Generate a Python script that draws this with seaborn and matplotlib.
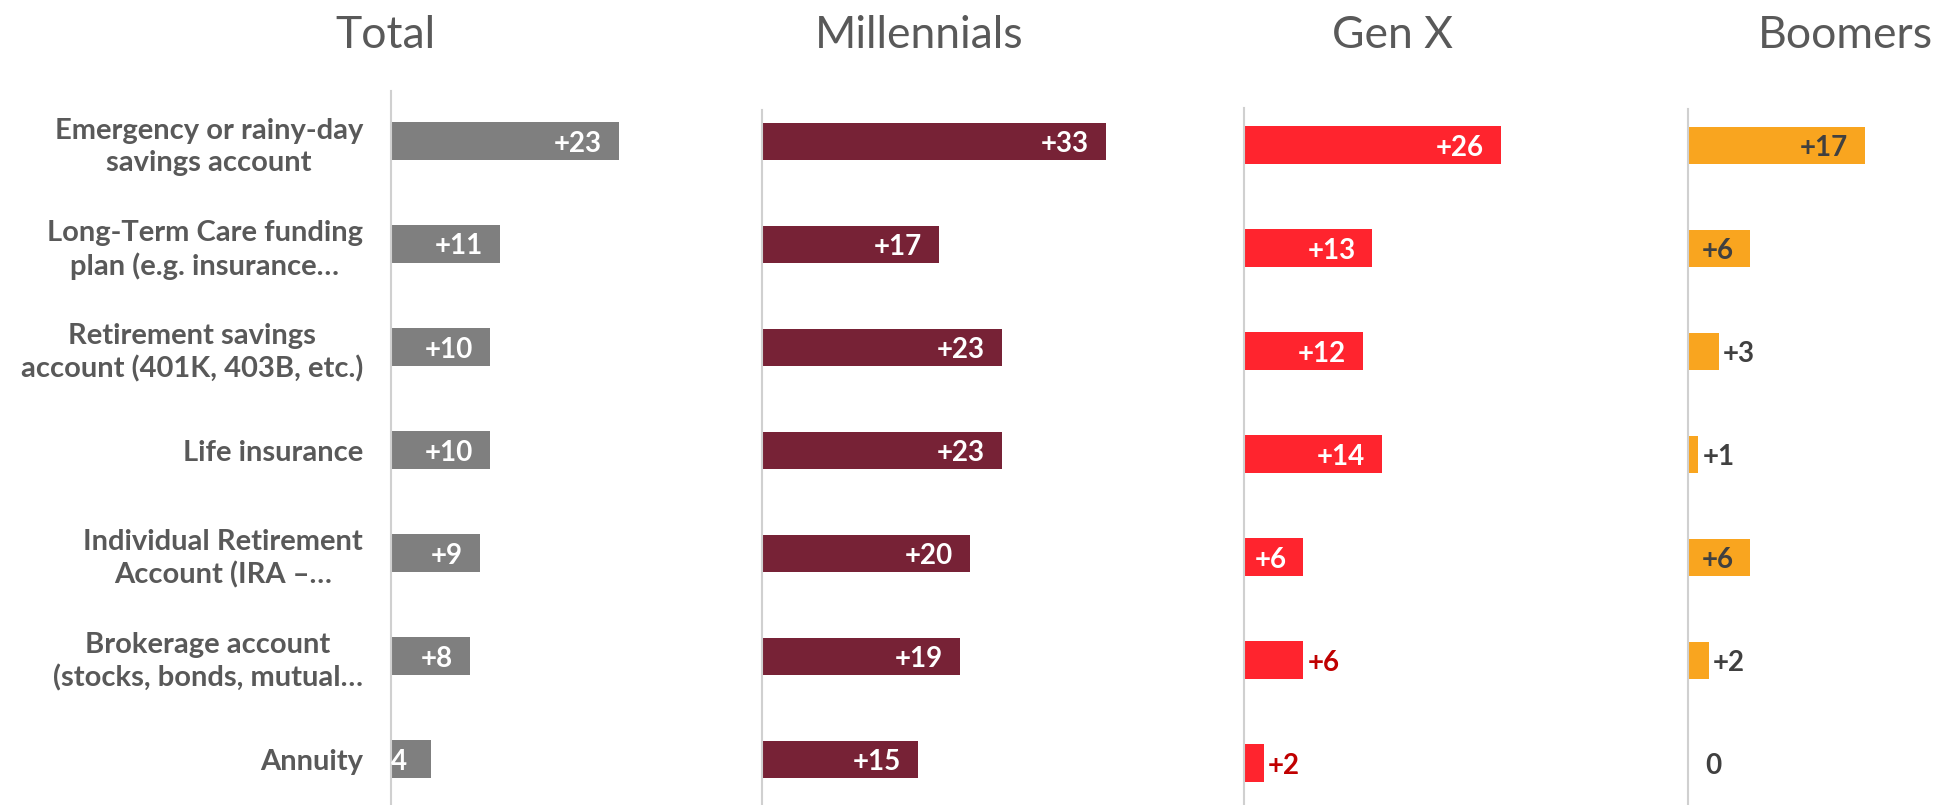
import matplotlib
matplotlib.use("Agg")
import matplotlib.pyplot as plt
import pandas as pd
import seaborn as sns

# ---- data -------------------------------------------------------------
categories = [
    "Emergency or rainy-day\nsavings account",
    "Long-Term Care funding\nplan (e.g. insurance…",
    "Retirement savings\naccount (401K, 403B, etc.)",
    "Life insurance",
    "Individual Retirement\nAccount (IRA –…",
    "Brokerage account\n(stocks, bonds, mutual…",
    "Annuity",
]
groups = ["Total", "Millennials", "Gen X", "Boomers"]
total = [23, 11, 10, 10, 9, 8, 4]
millennials = [33, 17, 23, 23, 20, 19, 15]
gen_x = [26, 13, 12, 14, 6, 6, 2]
boomers = [17, 6, 3, 1, 6, 2, 0]

# ---- styling ----------------------------------------------------------
sns.set_style("white")
plt.rcParams["font.family"] = ["Lato", "DejaVu Sans"]

W, H = 1943, 805
PX = 0.72          # points per pixel at 100 dpi
ROW = 103          # pixels per category slot
N = len(categories)
TEXT_GREY = "#595959"

fig = plt.figure(figsize=(W / 100, H / 100), dpi=100)

# per panel: values, bar colour, left edge (px), first row centre (px),
# x-range, pixels per unit, axis-line top (px), label colours, label placement
panels = [
    dict(name=groups[0], vals=total, color="#7F7F7F", left=391, row0=141,
         xmax=35, scale=9.9, line_top=91, title_x=385,
         c_in="white", c_out="white",
         place=["in", "in", "in", "in", "in", "in", "base"]),
    dict(name=groups[1], vals=millennials, color="#772236", left=762,
         row0=141.5, xmax=44, scale=10.42, line_top=110, title_x=919,
         c_in="white", c_out="white",
         place=["in"] * 7),
    dict(name=groups[2], vals=gen_x, color="#FF242E", left=1244, row0=145,
         xmax=40, scale=9.88, line_top=108, title_x=1392,
         c_in="white", c_out="#C00000",
         place=["in", "in", "in", "in", "in", "out", "out"]),
    dict(name=groups[3], vals=boomers, color="#F9A51F", left=1688,
         row0=145.5, xmax=24, scale=10.41, line_top=109, title_x=1845,
         c_in="#404040", c_out="#404040",
         place=["in", "in", "out", "out", "in", "out", "out"]),
]

y_top, y_bot = -0.5, N - 0.55

for k, p in enumerate(panels):
    width_px = p["xmax"] * p["scale"]
    top_px = p["row0"] + y_top * ROW
    height_px = (y_bot - y_top) * ROW
    ax = fig.add_axes([p["left"] / W, 1 - (top_px + height_px) / H,
                       width_px / W, height_px / H])

    df = pd.DataFrame({"category": categories, "value": p["vals"]})
    sns.barplot(data=df, x="value", y="category", orient="h",
                color=p["color"], saturation=1, width=0.36,
                linewidth=0, ax=ax)

    ax.set_xlim(0, p["xmax"])
    ax.set_ylim(y_bot, y_top)
    ax.set_xlabel("")
    ax.set_ylabel("")
    ax.set_xticks([])
    for s in ("top", "right", "bottom"):
        ax.spines[s].set_visible(False)
    ax.spines["left"].set_color("#D0D0D0")
    ax.spines["left"].set_linewidth(1.5)
    ax.spines["left"].set_bounds(y_bot, y_top + (p["line_top"] - top_px) / ROW)

    if k == 0:
        ax.tick_params(axis="y", length=0, pad=28 * PX)
        for lab in ax.get_yticklabels():
            lab.set_fontsize(21)
            lab.set_fontweight("bold")
            lab.set_color(TEXT_GREY)
            lab.set_multialignment("center")
            lab.set_linespacing(1.3)
    else:
        ax.tick_params(axis="y", length=0, labelleft=False)

    # value labels
    for i, (v, mode) in enumerate(zip(p["vals"], p["place"])):
        txt = f"+{v}" if v > 0 else "0"
        style = dict(textcoords="offset points", va="center_baseline",
                     fontsize=20, fontweight="bold")
        if mode == "in":
            ax.annotate(txt, xy=(v, i), xytext=(-17 * PX, 0), ha="right",
                        color=p["c_in"], **style)
        elif mode == "out":
            gap = 4 if v > 0 else 17
            ax.annotate(txt, xy=(v, i), xytext=(gap * PX, 0), ha="left",
                        color=p["c_out"], **style)
        else:
            ax.annotate(str(v), xy=(0, i), xytext=(0, 0), ha="left",
                        color=p["c_in"], **style)

    fig.text(p["title_x"] / W, 1 - 48 / H, p["name"], ha="center",
             va="baseline", fontsize=32, fontweight="normal",
             color=TEXT_GREY)

fig.savefig("out.png", dpi=100, facecolor="white")
